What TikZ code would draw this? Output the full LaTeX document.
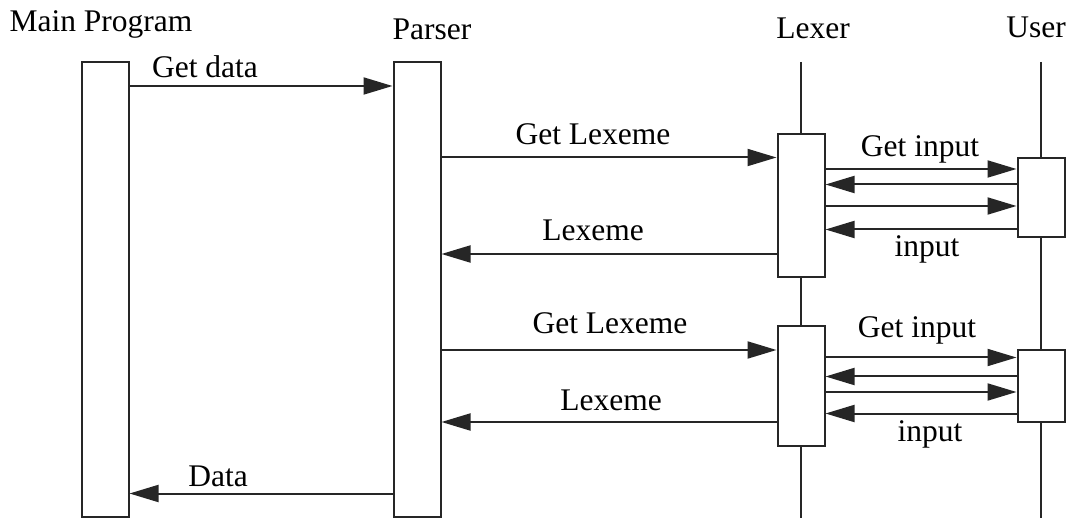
\documentclass[tikz,border=0pt]{standalone}
\usepackage{fontspec}
\setmainfont{Liberation Serif}
\usetikzlibrary{arrows.meta}
\begin{document}
\begin{tikzpicture}[x=1pt,y=-1pt,
  ln/.style={line width=2pt,draw=black!85},
  actbox/.style={ln,fill=white,rectangle,inner sep=0pt,minimum width=47pt},
  msg/.style={ln,-{Triangle[length=29pt,width=17pt]}},
  lbl/.style={anchor=base,inner sep=0pt,font=\fontsize{31.5}{36}\selectfont},
  lifeline/.style={ln}]
\useasboundingbox (0,0) rectangle (1068,518);
% titles
\node[lbl] (tMain) at (101,32) {Main Program};
\node[lbl] (tParser) at (432,40) {Parser};
\node[lbl] (tLexer) at (813,39) {Lexer};
\node[lbl] (tUser) at (1036,38) {User};
% lifelines
\coordinate (lexTop) at (801,62);
\coordinate (lexBot) at (801,520);
\coordinate (usrTop) at (1041,62);
\coordinate (usrBot) at (1041,520);
\draw[lifeline] (lexTop) -- (lexBot);
\draw[lifeline] (usrTop) -- (usrBot);
% activation boxes
\node[actbox,minimum height=455pt] (M) at (105,289.5) {};
\node[actbox,minimum height=455pt] (P) at (417,289.5) {};
\node[actbox,minimum height=143pt] (L1) at (801,205.5) {};
\node[actbox,minimum height=79pt] (U1) at (1041,197.5) {};
\node[actbox,minimum height=120pt] (L2) at (801,386) {};
\node[actbox,minimum height=72pt] (U2) at (1041,386) {};
% messages
\draw[msg] (M.east |- 0,86) -- (P.west |- 0,86);
\node[lbl] (lGetData) at (205,78) {Get data};
\draw[msg] (P.east |- 0,157.5) -- (L1.west |- 0,157.5);
\node[lbl] (lGL1) at (593,145) {Get Lexeme};
\draw[msg] (L1.east |- 0,169) -- (U1.west |- 0,169);
\node[lbl] (lGI1) at (920,156.5) {Get input};
\draw[msg] (U1.west |- 0,184.5) -- (L1.east |- 0,184.5);
\draw[msg] (L1.east |- 0,206) -- (U1.west |- 0,206);
\draw[msg] (U1.west |- 0,229.5) -- (L1.east |- 0,229.5);
\node[lbl] (lIn1) at (927,257) {input};
\draw[msg] (L1.west |- 0,254) -- (P.east |- 0,254);
\node[lbl] (lLx1) at (593,240.5) {Lexeme};
\draw[msg] (P.east |- 0,350) -- (L2.west |- 0,350);
\node[lbl] (lGL2) at (610,334) {Get Lexeme};
\draw[msg] (L2.east |- 0,357.5) -- (U2.west |- 0,357.5);
\node[lbl] (lGI2) at (917,338) {Get input};
\draw[msg] (U2.west |- 0,376.5) -- (L2.east |- 0,376.5);
\draw[msg] (L2.east |- 0,392) -- (U2.west |- 0,392);
\draw[msg] (U2.west |- 0,413.5) -- (L2.east |- 0,413.5);
\node[lbl] (lIn2) at (930,441.5) {input};
\draw[msg] (L2.west |- 0,422) -- (P.east |- 0,422);
\node[lbl] (lLx2) at (611,410) {Lexeme};
\draw[msg] (P.west |- 0,493.5) -- (M.east |- 0,493.5);
\node[lbl] (lData) at (218,486.5) {Data};
\end{tikzpicture}
\end{document}
